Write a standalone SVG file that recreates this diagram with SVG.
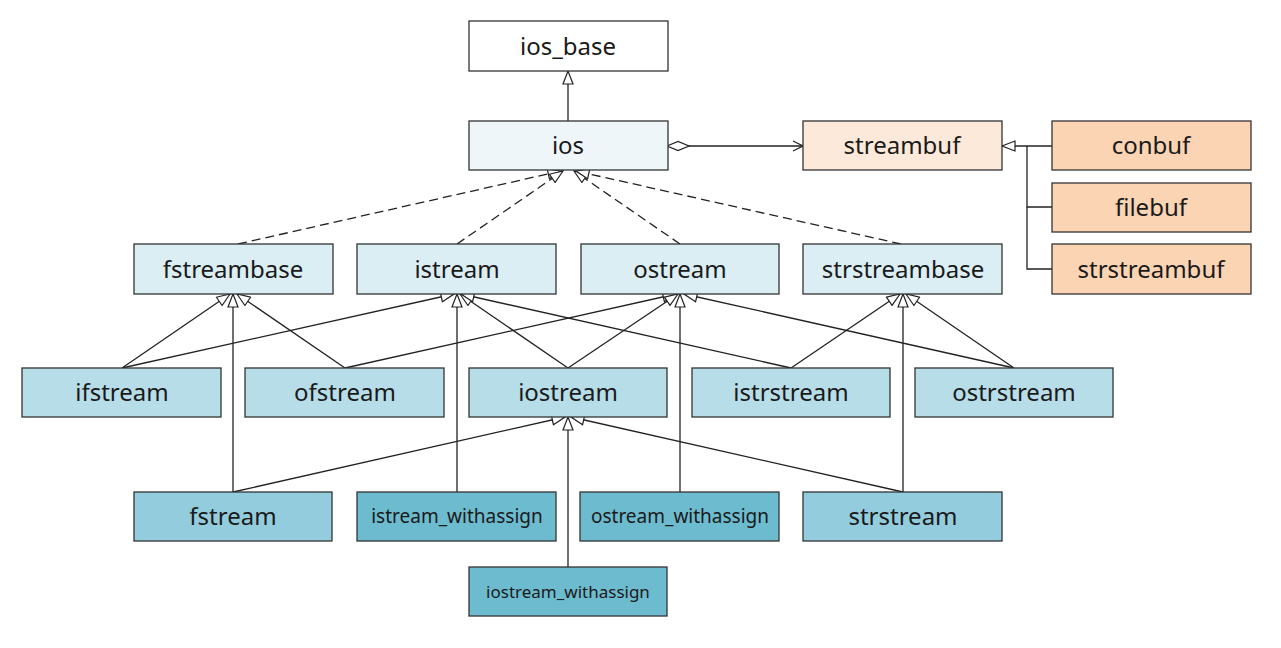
<svg xmlns="http://www.w3.org/2000/svg" width="1281" height="648" viewBox="0 0 1281 648">
<style>
.box{stroke:#333;stroke-width:1.3}
.t{font-family:"Noto Sans","Open Sans","DejaVu Sans",sans-serif;font-size:24px;fill:#1a1a1a;text-anchor:middle}
.s{font-size:19px}
.s2{font-size:17px}
.c0{fill:#ffffff}.c1{fill:#eef6fa}.c2{fill:#daeef3}.c3{fill:#b7dde8}.c4{fill:#93cddd}.c5{fill:#6dbbcf}
.o1{fill:#fde9d9}.o2{fill:#fbd4b4}
.ln{fill:none;stroke:#222;stroke-width:1.3}
.inh{marker-end:url(#tri)}
.dash{stroke-dasharray:9 5}
</style>
<defs>
<marker id="tri" viewBox="0 0 15 12" refX="14" refY="6" markerWidth="15" markerHeight="12" markerUnits="userSpaceOnUse" orient="auto">
<path d="M1,1 L14,6 L1,11 Z" fill="#fff" stroke="#222" stroke-width="1.2"/>
</marker>
<marker id="dia" viewBox="0 0 24 12" refX="1" refY="6" markerWidth="24" markerHeight="12" markerUnits="userSpaceOnUse" orient="auto">
<path d="M1,6 L12,1.5 L23,6 L12,10.5 Z" fill="#fff" stroke="#222" stroke-width="1.2"/>
</marker>
<marker id="open" viewBox="0 0 12 12" refX="11" refY="6" markerWidth="12" markerHeight="12" markerUnits="userSpaceOnUse" orient="auto">
<path d="M1,1 L11,6 L1,11" fill="none" stroke="#222" stroke-width="1.2"/>
</marker>
</defs>
<rect width="1281" height="648" fill="#fff"/>
<g id="connectors">
<path class="ln inh" d="M568,121 L568,71"/>
<path class="ln" d="M667,146 L803,146" marker-start="url(#dia)" marker-end="url(#open)"/>
<path class="ln inh" d="M1052,146 L1002,146"/>
<path class="ln" d="M1052,207 L1027,207 L1027,146"/>
<path class="ln" d="M1052,269 L1027,269 L1027,207"/>
<path class="ln inh dash" d="M238,244 L561,171"/>
<path class="ln inh dash" d="M457,244 L563,171"/>
<path class="ln inh dash" d="M680,244 L574,171"/>
<path class="ln inh dash" d="M901,244 L576,171"/>
<path class="ln inh" d="M122,368 L230,294"/>
<path class="ln inh" d="M122,368 L454,294"/>
<path class="ln inh" d="M345,368 L237,294"/>
<path class="ln inh" d="M345,368 L676,294"/>
<path class="ln inh" d="M568,368 L460,294"/>
<path class="ln inh" d="M568,368 L678,294"/>
<path class="ln inh" d="M791,368 L461,294"/>
<path class="ln inh" d="M791,368 L900,294"/>
<path class="ln inh" d="M1014,368 L684,294"/>
<path class="ln inh" d="M1014,368 L906,294"/>
<path class="ln inh" d="M233,492 L233,294"/>
<path class="ln inh" d="M233,492 L565,417"/>
<path class="ln inh" d="M457,492 L457,294"/>
<path class="ln inh" d="M680,492 L680,294"/>
<path class="ln inh" d="M903,492 L903,294"/>
<path class="ln inh" d="M903,492 L571,417"/>
<path class="ln inh" d="M568,567 L568,417"/>
</g>
<g id="ios_base"><rect class="box c0" x="469" y="21" width="199" height="50"/><text class="t" x="568" y="54.5">ios_base</text></g>
<g id="ios"><rect class="box c1" x="469" y="121" width="199" height="49"/><text class="t" x="568" y="154">ios</text></g>
<g id="streambuf"><rect class="box o1" x="803" y="121" width="199" height="49"/><text class="t" x="902" y="154">streambuf</text></g>
<g id="conbuf"><rect class="box o2" x="1052" y="121" width="199" height="49"/><text class="t" x="1151" y="154">conbuf</text></g>
<g id="filebuf"><rect class="box o2" x="1052" y="183" width="199" height="49"/><text class="t" x="1151" y="216">filebuf</text></g>
<g id="strstreambuf"><rect class="box o2" x="1052" y="244" width="199" height="50"/><text class="t" x="1151" y="277.5">strstreambuf</text></g>
<g id="fstreambase"><rect class="box c2" x="134" y="244" width="199" height="50"/><text class="t" x="233" y="277.5">fstreambase</text></g>
<g id="istream"><rect class="box c2" x="357" y="244" width="199" height="50"/><text class="t" x="457" y="277.5">istream</text></g>
<g id="ostream"><rect class="box c2" x="581" y="244" width="198" height="50"/><text class="t" x="680" y="277.5">ostream</text></g>
<g id="strstreambase"><rect class="box c2" x="803" y="244" width="199" height="50"/><text class="t" x="903" y="277.5">strstreambase</text></g>
<g id="ifstream"><rect class="box c3" x="22" y="368" width="199" height="49"/><text class="t" x="122" y="401">ifstream</text></g>
<g id="ofstream"><rect class="box c3" x="245" y="368" width="199" height="49"/><text class="t" x="345" y="401">ofstream</text></g>
<g id="iostream"><rect class="box c3" x="469" y="368" width="198" height="49"/><text class="t" x="568" y="401">iostream</text></g>
<g id="istrstream"><rect class="box c3" x="692" y="368" width="198" height="49"/><text class="t" x="791" y="401">istrstream</text></g>
<g id="ostrstream"><rect class="box c3" x="915" y="368" width="198" height="49"/><text class="t" x="1014" y="401">ostrstream</text></g>
<g id="fstream"><rect class="box c4" x="134" y="492" width="198" height="49"/><text class="t" x="233" y="525">fstream</text></g>
<g id="istream_withassign"><rect class="box c5" x="357" y="492" width="199" height="49"/><text class="t s" x="457" y="523">istream_withassign</text></g>
<g id="ostream_withassign"><rect class="box c5" x="580" y="492" width="199" height="49"/><text class="t s" x="680" y="523">ostream_withassign</text></g>
<g id="strstream"><rect class="box c4" x="803" y="492" width="199" height="49"/><text class="t" x="903" y="525">strstream</text></g>
<g id="iostream_withassign"><rect class="box c5" x="469" y="567" width="198" height="49"/><text class="t s2" x="568" y="597.5">iostream_withassign</text></g>
</svg>
